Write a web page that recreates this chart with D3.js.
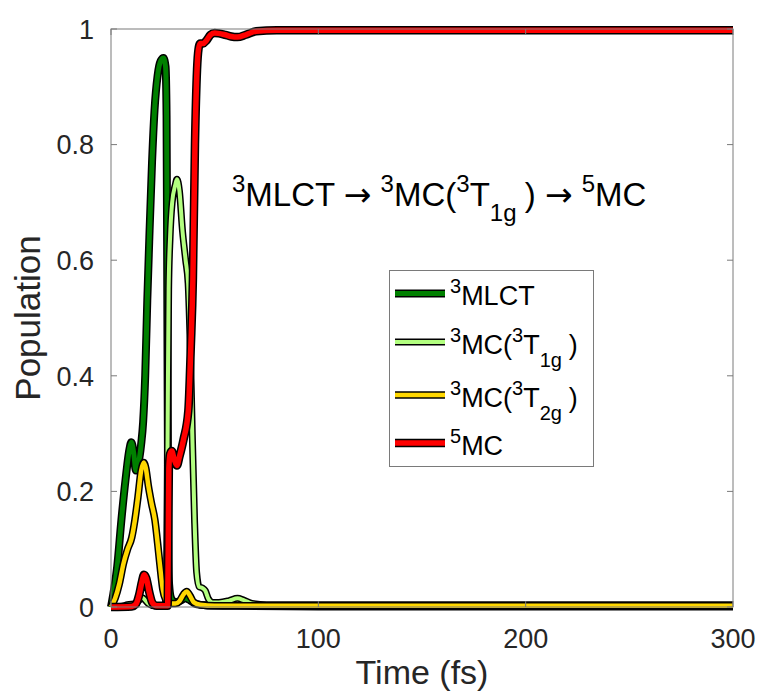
<!DOCTYPE html>
<html>
<head>
<meta charset="utf-8">
<script src="https://cdnjs.cloudflare.com/ajax/libs/d3/7.8.5/d3.min.js"></script>
<style>
  html, body { margin: 0; padding: 0; background: #fff; }
  svg { display: block; font-family: "Liberation Sans", Arial, Helvetica, sans-serif; }
</style>
</head>
<body>
<svg id="chart" width="759" height="696"></svg>
<script>
// Population traces (time in fs)
const tMLCT   = [0, 1, 3, 5, 7, 9, 9.8, 11, 12, 13, 14.5, 15.5, 16.5, 17.5, 18.5, 19.8, 21, 22.5, 24, 25.3, 26.3, 26.8, 27.2, 27.6, 28.0, 29, 31, 33, 36, 38, 41, 46, 60, 100, 200, 300];
const pMLCT   = [0, 0.02, 0.07, 0.15, 0.22, 0.275, 0.285, 0.265, 0.236, 0.245, 0.28, 0.32, 0.40, 0.53, 0.64, 0.77, 0.86, 0.92, 0.945, 0.95, 0.935, 0.85, 0.5, 0.15, 0.04, 0.015, 0.008, 0.01, 0.015, 0.012, 0.005, 0.003, 0.002, 0.001, 0.001, 0.001];

const tT1g    = [0, 5, 8, 12, 15, 18, 21, 26, 26.8, 27.3, 27.8, 28.5, 29.5, 31, 31.8, 33, 34.5, 36, 37.2, 38.3, 39.2, 40.3, 41.3, 42.5, 44, 45.5, 47, 49, 52, 57, 61, 64, 68, 75, 100, 200, 300];
const pT1g    = [0, 0.001, 0.004, 0.006, 0.016, 0.006, 0.002, 0.002, 0.05, 0.3, 0.55, 0.64, 0.70, 0.73, 0.74, 0.72, 0.65, 0.6, 0.56, 0.44, 0.3, 0.15, 0.06, 0.035, 0.033, 0.028, 0.014, 0.008, 0.008, 0.011, 0.015, 0.012, 0.006, 0.004, 0.004, 0.004, 0.004];

const tT2g    = [0, 2, 4, 6, 8, 10, 11.5, 13, 14.5, 15.8, 16.8, 18, 19.5, 21.2, 22.5, 23.6, 25, 26.5, 28, 31, 33, 35, 36.5, 38, 40, 43, 50, 100, 200, 300];
const pT2g    = [0, 0.015, 0.04, 0.075, 0.1, 0.12, 0.15, 0.19, 0.235, 0.25, 0.24, 0.21, 0.18, 0.15, 0.11, 0.073, 0.03, 0.012, 0.006, 0.006, 0.01, 0.022, 0.027, 0.02, 0.008, 0.004, 0.002, 0.002, 0.002, 0.002];

const t5MC    = [0, 10, 12, 13.5, 15, 15.9, 17, 18.5, 20, 22, 27.3, 27.6, 27.9, 28.5, 29.3, 30.5, 31.8, 33, 35, 37.3, 38.5, 39.5, 40.5, 41.5, 42.2, 43, 44.5, 46, 48, 50, 55, 58, 61, 65, 70, 80, 100, 200, 300];
const p5MC    = [0, 0.001, 0.005, 0.02, 0.045, 0.056, 0.05, 0.025, 0.007, 0.002, 0.002, 0.1, 0.24, 0.265, 0.27, 0.255, 0.245, 0.26, 0.29, 0.34, 0.45, 0.566, 0.8, 0.93, 0.965, 0.975, 0.975, 0.98, 0.99, 0.993, 0.99, 0.987, 0.986, 0.99, 0.996, 0.998, 0.998, 0.998, 0.998];

const xTicks = [0, 100, 200, 300];
const yTicks = [0, 0.2, 0.4, 0.6, 0.8, 1];
const yTickLabels = ["0", "0.2", "0.4", "0.6", "0.8", "1"];

// Each series: label pieces (normal / sup / sub), colour, stroke width
const series = [
  { t: tMLCT, p: pMLCT, color: "#008000", w: 5,   label: [["3","sup"],["MLCT"]] },
  { t: tT1g,  p: pT1g,  color: "#b3ff80", w: 4,   label: [["3","sup"],["MC("],["3","sup"],["T"],["1g","sub"],[")","gap"]] },
  { t: tT2g,  p: pT2g,  color: "#ffd700", w: 4.5, label: [["3","sup"],["MC("],["3","sup"],["T"],["2g","sub"],[")","gap"]] },
  { t: t5MC,  p: p5MC,  color: "#ff0000", w: 5.5, label: [["5","sup"],["MC"]] }
];

const svg = d3.select("#chart");
const margin = { left: 111, right: 26, top: 29, bottom: 89 };
const W = 759, H = 696;
const x = d3.scaleLinear().domain([0, 300]).range([margin.left, W - margin.right]);
const y = d3.scaleLinear().domain([0, 1]).range([H - margin.bottom, margin.top]);

const frameColor = "#7a7a7a";
const textColor = "#262626";

// plot lines: black casing underneath each coloured stroke
const line = d3.line().curve(d3.curveMonotoneX);
const gLines = svg.append("g");
series.forEach(s => {
  const pts = s.t.map((t, i) => [x(t), y(s.p[i])]);
  gLines.append("path").attr("d", line(pts)).attr("fill", "none")
    .attr("stroke", "#000").attr("stroke-width", s.w + 3).attr("stroke-linejoin", "round");
  gLines.append("path").attr("d", line(pts)).attr("fill", "none")
    .attr("stroke", s.color).attr("stroke-width", s.w).attr("stroke-linejoin", "round");
});

// axes box with inward ticks on all sides
const x0 = x.range()[0], x1 = x.range()[1], y0 = y.range()[0], y1 = y.range()[1];
const tickLen = 6;
const axes = svg.append("g");
axes.append("rect").attr("x", x0).attr("y", y1).attr("width", x1 - x0).attr("height", y0 - y1)
  .attr("fill", "none").attr("stroke", frameColor).attr("stroke-width", 1);
xTicks.forEach(v => {
  axes.append("line").attr("x1", x(v)).attr("x2", x(v)).attr("y1", y0).attr("y2", y0 - tickLen).attr("stroke", frameColor);
  axes.append("line").attr("x1", x(v)).attr("x2", x(v)).attr("y1", y1).attr("y2", y1 + tickLen).attr("stroke", frameColor);
  axes.append("text").attr("x", x(v)).attr("y", y0 + 41).attr("text-anchor", "middle")
    .attr("font-size", 27).attr("fill", textColor).text(v);
});
yTicks.forEach((v, i) => {
  axes.append("line").attr("x1", x0).attr("x2", x0 + tickLen).attr("y1", y(v)).attr("y2", y(v)).attr("stroke", frameColor);
  axes.append("line").attr("x1", x1).attr("x2", x1 - tickLen).attr("y1", y(v)).attr("y2", y(v)).attr("stroke", frameColor);
  axes.append("text").attr("x", 94).attr("y", y(v)).attr("dy", "0.36em").attr("text-anchor", "end")
    .attr("font-size", 27).attr("fill", textColor).text(yTickLabels[i]);
});
axes.append("text").attr("x", (x0 + x1) / 2).attr("y", 684).attr("text-anchor", "middle")
  .attr("font-size", 34).attr("fill", textColor).text("Time (fs)");
axes.append("text").attr("transform", `translate(40,${(y0 + y1) / 2}) rotate(-90)`).attr("text-anchor", "middle")
  .attr("font-size", 35).attr("fill", textColor).text("Population");

// text with superscripts / subscripts
function richText(g, px, py, parts, size, scriptSize, supShift, subShift) {
  const txt = g.append("text").attr("x", px).attr("y", py).attr("font-size", size).attr("fill", "#000");
  let cur = 0;
  parts.forEach(([s, kind]) => {
    const target = kind === "sup" ? -supShift : kind === "sub" ? subShift : 0;
    const ts = txt.append("tspan").attr("dy", target - cur).text(s)
      .attr("font-size", (kind === "sup" || kind === "sub") ? scriptSize : size);
    if (kind === "gap") ts.attr("dx", size * 0.25);
    if (kind === "arrow") ts.attr("font-family", "DejaVu Sans");
    cur = target;
  });
  return txt;
}

// reaction scheme annotation
richText(svg, 232, 206,
  [["3","sup"],["MLCT "],["\u2192","arrow"],[" "],["3","sup"],["MC("],["3","sup"],["T"],["1g","sub"],[")","gap"],[" "],["\u2192","arrow"],[" "],["5","sup"],["MC"]],
  33, 24, 14, 15);

// legend
const lg = svg.append("g");
lg.append("rect").attr("x", 389.5).attr("y", 270.5).attr("width", 204).attr("height", 196)
  .attr("fill", "#fff").attr("stroke", frameColor).attr("stroke-width", 1);
const legendLineY = [293.5, 342, 395, 443];
series.forEach((s, i) => {
  const ly = legendLineY[i];
  lg.append("line").attr("x1", 395).attr("x2", 445).attr("y1", ly).attr("y2", ly)
    .attr("stroke", "#000").attr("stroke-width", s.w + 3);
  lg.append("line").attr("x1", 395).attr("x2", 445).attr("y1", ly).attr("y2", ly)
    .attr("stroke", s.color).attr("stroke-width", s.w);
  richText(lg, 450, ly + 11.5, s.label, 27, 20, 12, 13);
});
</script>
</body>
</html>
